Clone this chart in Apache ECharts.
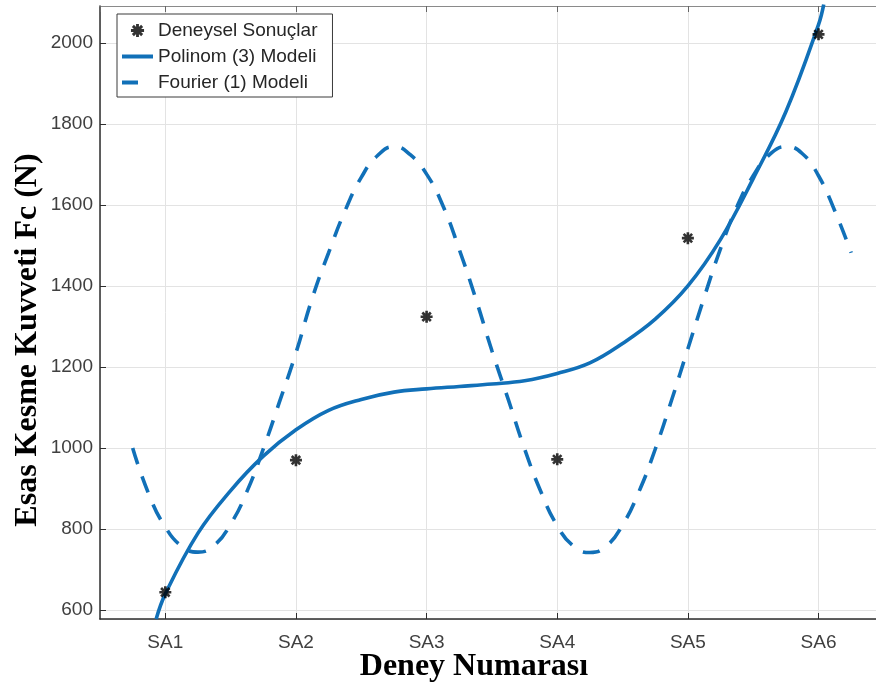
<!DOCTYPE html>
<html>
<head>
<meta charset="utf-8">
<script src="https://cdn.jsdelivr.net/npm/echarts@6/dist/echarts.min.js"></script>
<style>
  html, body { margin: 0; padding: 0; background: #fff; overflow: hidden; }
  #chart { width: 876px; height: 691px; }
</style>
</head>
<body>
<div id="chart"></div>
<script>
// deney numaralari
var categories = ['SA1', 'SA2', 'SA3', 'SA4', 'SA5', 'SA6'];
var deneyX = [1, 2, 3, 4, 5, 6];
var deneyY = [644, 970, 1324, 972, 1518, 2021];

// Polinom (3) modeli - resimden okunan noktalar
var polyX = [0.93, 1, 1.25, 1.5, 1.75, 2, 2.25, 2.5, 2.75, 3, 3.25, 3.5, 3.75, 4, 4.25, 4.5, 4.75, 5, 5.25, 5.5, 5.75, 6, 6.04];
var polyY = [578, 640, 790, 895, 980, 1045, 1093, 1120, 1138, 1146, 1152, 1158, 1166, 1184, 1210, 1258, 1318, 1400, 1515, 1665, 1830, 2045, 2095];

// Fourier (1) modeli - resimden okunan noktalar
var fourierX = [0.75, 0.875, 1, 1.125, 1.25, 1.375, 1.5, 1.625, 1.75, 1.875, 2, 2.125, 2.25, 2.375, 2.5, 2.625, 2.75, 2.875, 3,
    3.125, 3.25, 3.375, 3.5, 3.625, 3.75, 3.875, 4, 4.125, 4.25, 4.375, 4.5, 4.625, 4.75, 4.875, 5, 5.125, 5.25, 5.375, 5.5,
    5.625, 5.75, 5.875, 6, 6.125, 6.25];
var fourierY = [1000, 885, 805, 758, 743, 760, 812, 893, 998, 1115, 1235, 1370, 1482, 1585, 1668, 1722, 1744, 1724, 1676,
    1598, 1490, 1370, 1240, 1120, 998, 892, 808, 758, 742, 758, 810, 892, 997, 1118, 1245, 1372, 1492, 1595, 1672,
    1724, 1744, 1727, 1672, 1585, 1482];

var blue = '#1170b8';
var gridColor = '#e3e3e3';
var axisColor = '#2e2e2e';
var labelColor = '#404040';

var zip = function (xs, ys) {
    return xs.map(function (x, i) { return [x, ys[i]]; });
};

// yildiz (asterisk) isaretci
var asteriskBody =
    'M-1,-0.22L1,-0.22L1,0.22L-1,0.22Z' +
    'M-0.22,-1L0.22,-1L0.22,1L-0.22,1Z' +
    'M-0.55,-0.86L0.86,0.55L0.55,0.86L-0.86,-0.55Z' +
    'M-0.86,0.55L0.55,-0.86L0.86,-0.55L-0.55,0.86Z';
var asterisk = 'path://' + asteriskBody;
// lejant icin: daha genis kutu, isaretci kucuk kalsin
var asteriskIcon = 'path://' + asteriskBody +
    'M-1.45,-1.45L-1.44,-1.45L-1.44,-1.44Z' +
    'M1.44,1.44L1.45,1.44L1.45,1.45Z';
var solidIcon = 'path://M0,0L31,0L31,4L0,4Z';
var dashIcon = 'path://M0,0L16,0L16,4L0,4ZM30.95,1.95L31,1.95L31,2Z';

var myChart = echarts.init(document.getElementById('chart'));
var option = {
    backgroundColor: '#fff',
    animation: false,
    grid: {
        show: false,
        left: 100,
        top: 6,
        right: 0,
        bottom: 72
    },
    legend: {
        orient: 'vertical',
        left: 117,
        top: 14,
        padding: [7, 15, 5, 5],
        itemGap: 7,
        itemWidth: 31,
        itemHeight: 19,
        backgroundColor: '#fff',
        borderColor: '#3a3a3a',
        borderWidth: 1,
        textStyle: {
            fontFamily: 'Liberation Sans',
            fontSize: 19,
            color: '#262626'
        },
        data: [
            { name: 'Deneysel Sonuçlar', icon: asteriskIcon },
            { name: 'Polinom (3) Modeli', icon: solidIcon },
            { name: 'Fourier (1) Modeli', icon: dashIcon }
        ]
    },
    xAxis: [
        {
            type: 'value',
            min: 0.5,
            max: 6.44,
            splitNumber: 6,
            axisLine: { show: true, lineStyle: { color: axisColor, width: 1.5 } },
            axisTick: { show: true, inside: true, length: 6, lineStyle: { color: axisColor } },
            axisLabel: {
                show: true,
                showMinLabel: false,
                showMaxLabel: false,
                margin: 14,
                fontFamily: 'Liberation Sans',
                fontSize: 19,
                color: labelColor,
                formatter: function (v) {
                    return Math.round(v) === v ? (categories[v - 1] || '') : '';
                }
            },
            splitLine: { show: true, lineStyle: { color: gridColor, width: 1 } }
        },
        {
            type: 'value',
            position: 'top',
            min: 0.5,
            max: 6.44,
            splitNumber: 6,
            axisLine: { show: true, lineStyle: { color: '#8a8a8a', width: 1 } },
            axisTick: { show: true, inside: true, length: 6, lineStyle: { color: '#666' } },
            axisLabel: { show: false },
            splitLine: { show: false }
        }
    ],
    yAxis: {
        type: 'value',
        min: 578,
        max: 2091,
        splitNumber: 7,
        axisLine: { show: true, lineStyle: { color: axisColor, width: 1.5 } },
        axisTick: { show: true, inside: true, length: 6, lineStyle: { color: axisColor } },
        axisLabel: {
            showMinLabel: false,
            showMaxLabel: false,
            margin: 7,
            fontFamily: 'Liberation Sans',
            fontSize: 19,
            color: labelColor,
            formatter: function (v) { return String(v); }
        },
        splitLine: { show: true, lineStyle: { color: gridColor, width: 1 } }
    },
    series: [
        {
            name: 'Deneysel Sonuçlar',
            type: 'scatter',
            symbol: asterisk,
            symbolSize: 12,
            itemStyle: { color: '#000' },
            z: 5,
            data: zip(deneyX, deneyY)
        },
        {
            name: 'Polinom (3) Modeli',
            type: 'line',
            smooth: 0.4,
            showSymbol: false,
            symbol: 'none',
            lineStyle: { color: blue, width: 3.6 },
            itemStyle: { color: blue },
            data: zip(polyX, polyY)
        },
        {
            name: 'Fourier (1) Modeli',
            type: 'line',
            smooth: 0.5,
            showSymbol: false,
            symbol: 'none',
            lineStyle: { color: blue, width: 3.6, type: [17, 13], cap: 'butt' },
            itemStyle: { color: blue },
            data: zip(fourierX, fourierY)
        }
    ],
    graphic: [
        {
            type: 'text',
            x: 28,
            y: 340,
            rotation: Math.PI / 2,
            style: {
                text: 'Esas Kesme Kuvveti Fc (N)',
                fontFamily: 'Liberation Serif',
                fontWeight: 'bold',
                fontSize: 32,
                fill: '#000',
                textAlign: 'center',
                textVerticalAlign: 'middle'
            }
        },
        {
            type: 'text',
            x: 474,
            y: 667,
            style: {
                text: 'Deney Numarası',
                fontFamily: 'Liberation Serif',
                fontWeight: 'bold',
                fontSize: 32,
                fill: '#000',
                textAlign: 'center',
                textVerticalAlign: 'middle'
            }
        }
    ]
};
myChart.setOption(option);
</script>
</body>
</html>
